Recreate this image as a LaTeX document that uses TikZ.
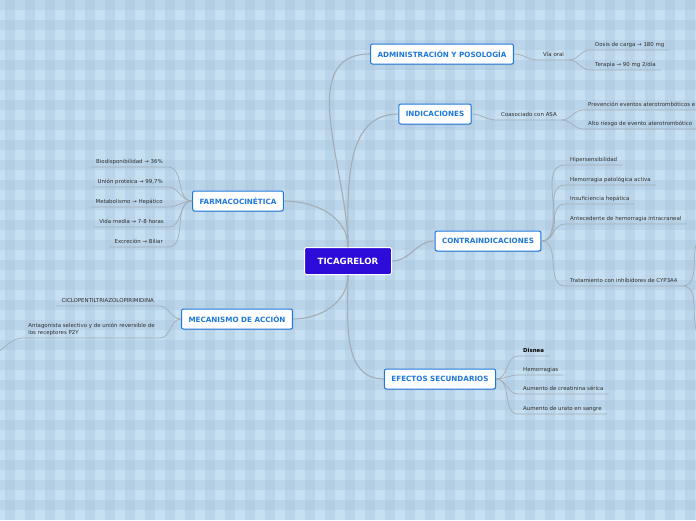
\documentclass[tikz,border=0pt]{standalone}
\usepackage{fontspec}
\setmainfont{DejaVu Sans}
\usepackage{tikz}
\usetikzlibrary{positioning,shadows}
\definecolor{paper}{HTML}{C6E0F2}
\definecolor{plaid}{HTML}{A6C2DA}
\definecolor{hubfill}{HTML}{2D0BD8}
\definecolor{topicblue}{HTML}{1E78DC}
\definecolor{linkgray}{HTML}{A3ADB6}
\definecolor{leaftext}{HTML}{2E2E2E}
\tikzset{
  branch/.style={draw=linkgray,line width=1.1pt},
  twig/.style={draw=linkgray,line width=0.7pt},
  hub/.style={rectangle,rounded corners=1.5pt,draw=white,line width=1pt,fill=hubfill,text=white,
    font=\fontsize{8.6}{10}\selectfont\bfseries,minimum width=87pt,minimum height=27pt},
  topic/.style={rectangle,rounded corners=2pt,draw=topicblue,line width=1pt,fill=white,text=topicblue,
    font=\fontsize{7.2}{8.6}\selectfont\bfseries,inner xsep=7pt,minimum height=20pt,
    drop shadow={opacity=0.25,shadow xshift=0.6pt,shadow yshift=-1pt}},
  leaf/.style={inner xsep=5pt,inner ysep=2.6pt,text=leaftext,font=\fontsize{5.45}{6.5}\selectfont},
  rleaf/.style={leaf,anchor=base west,text height=4pt,text depth=1.2pt},
  lleaf/.style={leaf,anchor=base east,text height=4pt,text depth=1.2pt}
}
\begin{document}
\begin{tikzpicture}[x=1pt,y=-1pt]
  \useasboundingbox (0,0) rectangle (696,520);
  \fill[paper] (0,0) rectangle (696,520);
  \foreach \k in {0,...,34} \fill[plaid,opacity=0.35] (\k*20+5,0) rectangle ++(10,520);
  \foreach \k in {0,...,25} \fill[plaid,opacity=0.35] (0,\k*20) rectangle ++(696,10);

  \node[hub] (tic) at (348,261) {TICAGRELOR};
  \node[topic] (admin) at (442,54) {ADMINISTRACIÓN Y POSOLOGÍA};
  \node[topic] (ind) at (435,114) {INDICACIONES};
  \node[topic] (contra) at (488,241) {CONTRAINDICACIONES};
  \node[topic] (efec) at (440,379) {EFECTOS SECUNDARIOS};
  \node[topic] (farm) at (238,201) {FARMACOCINÉTICA};
  \node[topic] (mec) at (237,319) {MECANISMO DE ACCIÓN};

  \node[rleaf] (via) at (538,56) {Vía oral};
  \node[rleaf] (dosis) at (590,46) {Dosis de carga → 180 mg};
  \node[rleaf] (terap) at (590,66) {Terapia → 90 mg 2/día};
  \node[rleaf] (coas) at (496,116) {Coasociado con ASA};
  \node[rleaf] (prev) at (583,106) {Prevención eventos aterotrombóticos e};
  \node[rleaf] (alto) at (583,125) {Alto riesgo de evento aterotrombótico};
  \node[rleaf] (hiper) at (565,161) {Hipersensibilidad};
  \node[rleaf] (hemo) at (565,181) {Hemorragia patológica activa};
  \node[rleaf] (insuf) at (565,200) {Insuficiencia hepática};
  \node[rleaf] (antec) at (565,220) {Antecedente de hemorragia intracraneal};
  \node[rleaf] (trat) at (565,282) {Tratamiento con inhibidores de CYP3A4};
  \node[rleaf,font=\fontsize{5.45}{6.5}\selectfont\bfseries,text=black] (disnea) at (518,352) {Disnea};
  \node[rleaf] (hemrg) at (518,371) {Hemorragias};
  \node[rleaf] (creat) at (518,390) {Aumento de creatinina sérica};
  \node[rleaf] (urato) at (518,410) {Aumento de urato en sangre};

  \node[lleaf] (bio) at (168,163) {Biodisponibilidad → 36\%};
  \node[lleaf] (union) at (168,183) {Unión proteica → 99,7\%};
  \node[lleaf] (metab) at (168,203) {Metabolismo → Hepático};
  \node[lleaf] (vida) at (169,223) {Vida media → 7-8 horas};
  \node[lleaf] (excr) at (168,243) {Excreción → Biliar};
  \node[lleaf] (ciclo) at (159,302) {CICLOPENTILTRIAZOLOPIRIMIDINA};
  \node[leaf,align=left,anchor=south east] (antag) at (160,338) {Antagonista selectivo y de unión reversible de\\los receptores P2Y};

  \coordinate (tratup) at (706,236);
  \coordinate (tratdown) at (706,338);
  \coordinate (antagsub) at (-14,356);

  \draw[branch] (tic.north) to[out=90,in=180] (admin.west);
  \draw[branch] (tic.north) to[out=90,in=180] (ind.west);
  \draw[branch] (tic.east) to[out=0,in=180] (contra.west);
  \draw[branch] (tic.south) to[out=-90,in=180] (efec.west);
  \draw[branch] (tic.north) to[out=90,in=0] (farm.east);
  \draw[branch] (tic.south) to[out=-90,in=0] (mec.east);

  \draw[twig] (admin.east) to[out=0,in=180] (via.south west) -- (via.south east);
  \foreach \n in {dosis,terap} \draw[twig] (via.south east) to[out=0,in=180] (\n.south west) -- (\n.south east);
  \draw[twig] (ind.east) to[out=0,in=180] (coas.south west) -- (coas.south east);
  \foreach \n in {prev,alto} \draw[twig] (coas.south east) to[out=0,in=180] (\n.south west) -- (\n.south east);
  \foreach \n in {hiper,hemo,insuf,antec,trat} \draw[twig] (contra.east) to[out=0,in=180] (\n.south west) -- (\n.south east);
  \draw[twig] (tratup) to[out=180,in=0] (trat.south east) to[out=0,in=180] (tratdown);
  \foreach \n in {disnea,hemrg,creat,urato} \draw[twig] (efec.east) to[out=0,in=180] (\n.south west) -- (\n.south east);
  \foreach \n in {bio,union,metab,vida,excr} \draw[twig] (farm.west) to[out=180,in=0] (\n.south east) -- (\n.south west);
  \draw[twig] (mec.west) to[out=180,in=0] (ciclo.south east) -- (ciclo.south west);
  \draw[twig] (mec.west) to[out=180,in=0] (antag.south east) -- (antag.south west) to[out=180,in=0] (antagsub);
\end{tikzpicture}
\end{document}
